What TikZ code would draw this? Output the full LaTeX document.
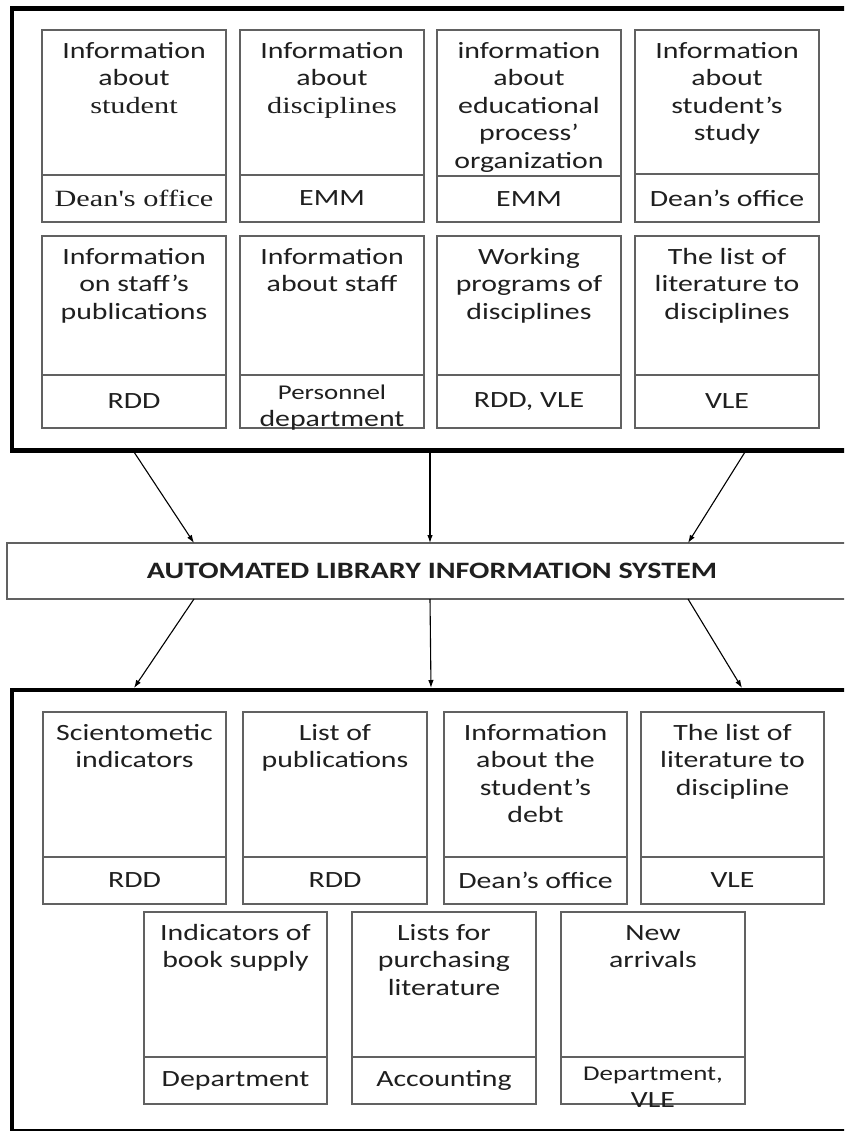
\documentclass[tikz,border=0pt]{standalone}
\usepackage{fontspec}
\setmainfont{Carlito}[FakeStretch=1.28]
\newfontfamily\cambriaish{Liberation Serif}[FakeStretch=1.3]
\usetikzlibrary{arrows.meta}
\definecolor{cardedge}{gray}{0.38}
\definecolor{ink}{gray}{0.12}
\tikzset{
  cardbox/.style={draw=cardedge, line width=1.2pt, inner sep=0pt, outer sep=0pt, anchor=north west},
  cardsrc/.style={inner sep=0pt, align=center, text=ink, font=\fontsize{23.3}{27.5}\selectfont},
  cardtitle/.style={anchor=north, inner sep=0pt, align=center, text=ink, font=\fontsize{23.3}{27.5}\selectfont},
  bigframe/.style={draw=black, line width=4.5pt, inner sep=0pt, outer sep=0pt, anchor=north west},
  flow/.style={draw=black, line width=1.1pt, -{Latex[length=8pt,width=5.5pt]}},
}
% a card: name, left x, top y, divider y, bottom y, width, heading, source
\newcommand\infocard[8]{%
  \node[cardbox, minimum width=#6, minimum height={#4-#3}] (#1) at (#2,#3) {};
  \node[cardbox, minimum width=#6, minimum height={#5-#4}] (#1f) at (#2,#4) {};
  \node[cardtitle] (#1t) at ([yshift=-8.75pt]#1.north) {\strut#7};
  \node[cardsrc] (#1s) at (#1f.center) {#8};
}
% two-line source text, set a little smaller and lower
\newcommand\twolinesrc[2]{\fontsize{21}{27}\selectfont\rule{0pt}{27pt}#1\\#2}
\begin{document}
\begin{tikzpicture}[x=1pt,y=-1pt]
\useasboundingbox (0,0) rectangle (844,1131);
\clip (0,0) rectangle (844,1131);
\fill[white] (0,0) rectangle (844,1131);

% data sources
\node[bigframe, minimum width=900, minimum height=442] (src) at (12,8.5) {};
\infocard{c1}{42}{30}{175}{222}{184}{Information\\about\\{\cambriaish student}}{{\cambriaish Dean's office}}
\infocard{c2}{240}{30}{175}{222}{184}{Information\\about\\{\cambriaish disciplines}}{EMM}
\infocard{c3}{437}{30}{176}{222}{184}{information\\about\\educational\\process'\\organization}{EMM}
\infocard{c4}{635}{30}{174}{222}{184}{Information\\about\\student’s\\study}{Dean’s office}
\infocard{c5}{42}{236}{375}{428}{184}{Information\\on staff's\\publications}{RDD}
\infocard{c6}{240}{236}{375}{428}{184}{Information\\about staff}{\twolinesrc{Personnel}{department}}
\infocard{c7}{437}{236}{375}{428}{184}{Working\\programs of\\disciplines}{RDD, VLE}
\infocard{c8}{635}{236}{375}{428}{184}{The list of\\literature to\\disciplines}{VLE}

% central system
\node[cardbox, minimum width=850, minimum height=56, align=center, text=ink,
      font=\fontsize{23.5}{27}\selectfont\bfseries] (alis) at (7,543)
      {AUTOMATED LIBRARY INFORMATION SYSTEM};

% outputs
\node[bigframe, minimum width=900, minimum height=441] (dst) at (12,690) {};
\infocard{d1}{43}{712}{857}{904}{183}{Scientometic\\indicators}{RDD}
\infocard{d2}{243}{712}{857}{904}{184}{List of\\publications}{RDD}
\infocard{d3}{444}{712}{857}{904}{183}{Information\\about the\\student's\\debt}{Dean’s office}
\infocard{d4}{641}{712}{857}{904}{183}{The list of\\literature to\\discipline}{VLE}
\infocard{e1}{144}{912}{1057}{1104}{183}{Indicators of\\book supply}{Department}
\infocard{e2}{352}{912}{1057}{1104}{184}{Lists for\\purchasing\\literature}{Accounting}
\infocard{e3}{561}{912}{1057}{1104}{184}{New\\arrivals}{\twolinesrc{Department,}{VLE}}

% connector ends on the frame and system edges
\coordinate (s1) at (134,452);
\coordinate (s2) at (430,452);
\coordinate (s3) at (745,452);
\coordinate (a1) at (194,543);
\coordinate (a2) at (430,543);
\coordinate (a3) at (688,543);
\coordinate (b1) at (194,599);
\coordinate (b2) at (430,599);
\coordinate (b3) at (688,599);
\coordinate (t1) at (134,688);
\coordinate (t2) at (431,688);
\coordinate (t3) at (742,688);

\draw[flow] (s1) -- (a1);
\draw[flow] (s2) -- (a2);
\draw[flow] (s3) -- (a3);
\draw[flow] (b1) -- (t1);
\draw[flow] (b2) -- (t2);
\draw[flow] (b3) -- (t3);
\end{tikzpicture}
\end{document}
